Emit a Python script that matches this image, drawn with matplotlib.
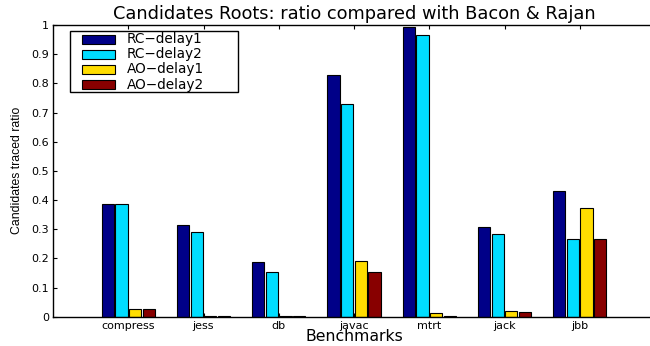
import matplotlib
matplotlib.use("Agg")
import matplotlib.pyplot as plt
from matplotlib.patches import Rectangle
import numpy as np

benchmarks = ["compress", "jess", "db", "javac", "mtrt", "jack", "jbb"]
series_names = ["RC\u2212delay1", "RC\u2212delay2", "AO\u2212delay1", "AO\u2212delay2"]
rc_delay1 = [0.386, 0.313, 0.186, 0.829, 0.992, 0.307, 0.432]
rc_delay2 = [0.386, 0.291, 0.152, 0.728, 0.966, 0.282, 0.266]
ao_delay1 = [0.026, 0.004, 0.001, 0.190, 0.014, 0.018, 0.373]
ao_delay2 = [0.026, 0.003, 0.001, 0.153, 0.002, 0.015, 0.266]
colors = ["#000088", "#00DDFF", "#FFDD00", "#880000"]

plt.rcParams["font.family"] = ["DejaVu Sans"]

W, H = 650, 346
AX_L, AX_B, AX_W, AX_H = 53, 29.3, 602, 291.7

fig = plt.figure(figsize=(W / 100, H / 100), dpi=100)
ax = fig.add_axes([AX_L / W, AX_B / H, AX_W / W, AX_H / H])


def px(xp, yp):
    # pixel position (from top-left of the image) -> axes fraction
    return (xp - AX_L) / AX_W, (H - AX_B - yp) / AX_H


x = np.arange(1, len(benchmarks) + 1)
step = 0.182
width = 0.163
all_series = [rc_delay1, rc_delay2, ao_delay1, ao_delay2]
for i, (vals, col) in enumerate(zip(all_series, colors)):
    ax.bar(x + (i - 1.5) * step, vals, width=width, color=col, edgecolor="black",
           linewidth=0.8, zorder=2)

ax.set_xlim(0, 8)
ax.set_ylim(0, 1)
ax.set_xticks(x)
ax.set_xticklabels(benchmarks, fontsize=8)
ax.set_yticks(np.arange(0, 1.01, 0.1))
ax.set_yticklabels(["0"] + [f"{v:.1f}" for v in np.arange(0.1, 0.95, 0.1)] + ["1"], fontsize=8)
ax.tick_params(direction="in", top=True, right=True, length=3, width=0.8, pad=3)
for sp in ax.spines.values():
    sp.set_linewidth(1.0)

ax.set_title("Candidates Roots: ratio compared with Bacon & Rajan", fontsize=12.8, pad=4)
ax.set_xlabel("Benchmarks", fontsize=11.3, labelpad=-1)
ax.set_ylabel("Candidates traced ratio", fontsize=8.8, labelpad=6,
              family=["Liberation Sans Narrow", "Liberation Sans"])

# legend box drawn by hand so the rows sit tight like the original
x0, y0 = px(70, 31)
x1, y1 = px(238, 92)
ax.add_patch(Rectangle((x0, y1), x1 - x0, y0 - y1, transform=ax.transAxes,
                       facecolor="white", edgecolor="black", linewidth=1.0, zorder=5))
row_y = [39.3, 54.4, 69.5, 84.6]
for name, col, ry in zip(series_names, colors, row_y):
    hx0, hy0 = px(81.7, ry + 4.8)
    hx1, hy1 = px(115, ry - 4.8)
    ax.add_patch(Rectangle((hx0, hy0), hx1 - hx0, hy1 - hy0, transform=ax.transAxes,
                           facecolor=col, edgecolor="black", linewidth=0.8, zorder=6))
    tx, ty = px(127, ry)
    ax.text(tx, ty, name, transform=ax.transAxes, fontsize=9.8, va="center",
            ha="left", zorder=7)

fig.savefig("out.png", dpi=100)
